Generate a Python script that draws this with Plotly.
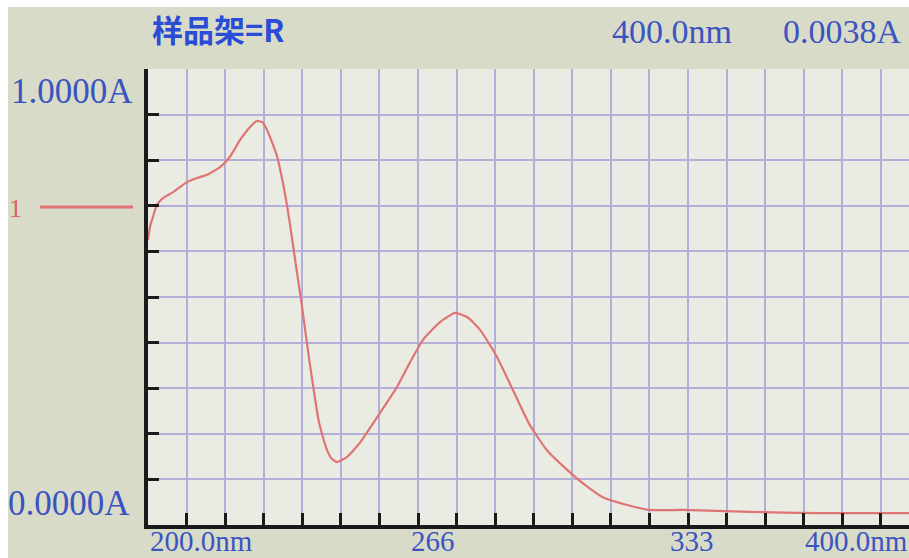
import plotly.graph_objects as go

# ---- data ----
wavelength_nm = [200.0, 200.5, 201.2, 202.2, 203.7, 206.2, 209.6, 212.1, 214.6, 217.8,
                 220.2, 222.7, 225.2, 226.9, 228.4, 229.6, 230.9, 231.9, 233.4, 234.9,
                 236.4, 237.9, 239.3, 240.8, 242.2, 244.0, 245.2, 246.7, 249.1, 252.3,
                 257.3, 261.5, 264.7, 267.9, 272.1, 275.8, 278.8, 282.0, 286.2, 290.1,
                 294.3, 298.5, 303.5, 307.9, 312.3, 318.3, 323.9, 332.1, 348.6, 365.2,
                 387.9]
absorbance = [0.625, 0.654, 0.675, 0.702, 0.717, 0.730, 0.752, 0.761, 0.768, 0.785,
              0.807, 0.844, 0.873, 0.886, 0.882, 0.862, 0.833, 0.807, 0.746, 0.669,
              0.577, 0.487, 0.395, 0.303, 0.226, 0.169, 0.147, 0.138, 0.149, 0.180,
              0.246, 0.303, 0.357, 0.406, 0.445, 0.465, 0.456, 0.428, 0.368, 0.296,
              0.219, 0.164, 0.121, 0.088, 0.061, 0.044, 0.033, 0.033, 0.029, 0.026,
              0.026]
x_tick_labels = ["200.0nm", "266", "333", "400.0nm"]
y_tick_labels = ["1.0000A", "0.0000A"]
header_left = "样品架=R"
header_wl = "400.0nm"
header_abs = "0.0038A"
legend_label = "1"

W, H = 909, 558
L, T, B = 148, 69, 33
PW, PH = W - L, H - T - B


def px(x):
    return (x - L) / PW


def py(y):
    return (H - B - y) / PH


BLUE = "#3a54c2"
RED = "#e07474"
SERIF = "Liberation Serif, DejaVu Serif, serif"

fig = go.Figure()
fig.add_trace(go.Scatter(x=wavelength_nm, y=absorbance, mode="lines",
                         line=dict(color=RED, width=2.2, shape="spline", smoothing=0.5),
                         showlegend=False, hoverinfo="skip"))

fig.update_layout(
    width=W, height=H,
    margin=dict(l=L, r=0, t=T, b=B, pad=0),
    paper_bgcolor="#d9dbc9",
    plot_bgcolor="#eaebe3",
    xaxis=dict(range=[200, 387.9], tick0=200, dtick=200 / 21, showgrid=True,
               gridcolor="#b2afd8", gridwidth=2, zeroline=False,
               showline=True, linecolor="#1a1a1a", linewidth=4,
               ticks="inside", ticklen=12, tickwidth=3, tickcolor="#1a1a1a",
               showticklabels=False),
    yaxis=dict(range=[0, 1], tick0=0, dtick=0.1, showgrid=True,
               gridcolor="#b2afd8", gridwidth=2, zeroline=False,
               showline=True, linecolor="#1a1a1a", linewidth=4,
               ticks="inside", ticklen=11, tickwidth=3, tickcolor="#1a1a1a",
               showticklabels=False),
)

shapes = [
    # white photo borders
    dict(type="rect", xref="paper", yref="paper", x0=px(0), x1=px(W), y0=py(0), y1=py(7),
         fillcolor="white", line=dict(width=0), layer="above"),
    dict(type="rect", xref="paper", yref="paper", x0=px(0), x1=px(8), y0=py(0), y1=py(H),
         fillcolor="white", line=dict(width=0), layer="above"),
    # legend line
    dict(type="line", xref="paper", yref="paper", x0=px(40), x1=px(133), y0=py(207), y1=py(207),
         line=dict(color=RED, width=3)),
]
fig.update_layout(shapes=shapes)

ann = []


def add_text(text, x, y, size, color=BLUE, xanchor="left", yanchor="middle",
             family=SERIF, weight="normal"):
    ann.append(dict(text=text, xref="paper", yref="paper", x=px(x), y=py(y), showarrow=False,
                    xanchor=xanchor, yanchor=yanchor,
                    font=dict(family=family, size=size, color=color, weight=weight)))


add_text(header_left, 150, 29, 31, color="#2a4cd6",
         family="Noto Sans CJK SC, Noto Sans, sans-serif", weight="bold")
add_text(header_wl, 610, 31, 34)
add_text(header_abs, 781, 31, 34)
add_text(y_tick_labels[0], 9, 91, 35)
add_text(y_tick_labels[1], 6, 503, 35)
add_text(x_tick_labels[0], 148, 523, 29, yanchor="top")
add_text(x_tick_labels[1], 433, 523, 29, xanchor="center", yanchor="top")
add_text(x_tick_labels[2], 692, 523, 29, xanchor="center", yanchor="top")
add_text(x_tick_labels[3], 803, 523, 29, yanchor="top")
add_text(legend_label, 15, 208, 26, color="#e06060", xanchor="center")
fig.update_layout(annotations=ann)

fig.write_html("out.html")
